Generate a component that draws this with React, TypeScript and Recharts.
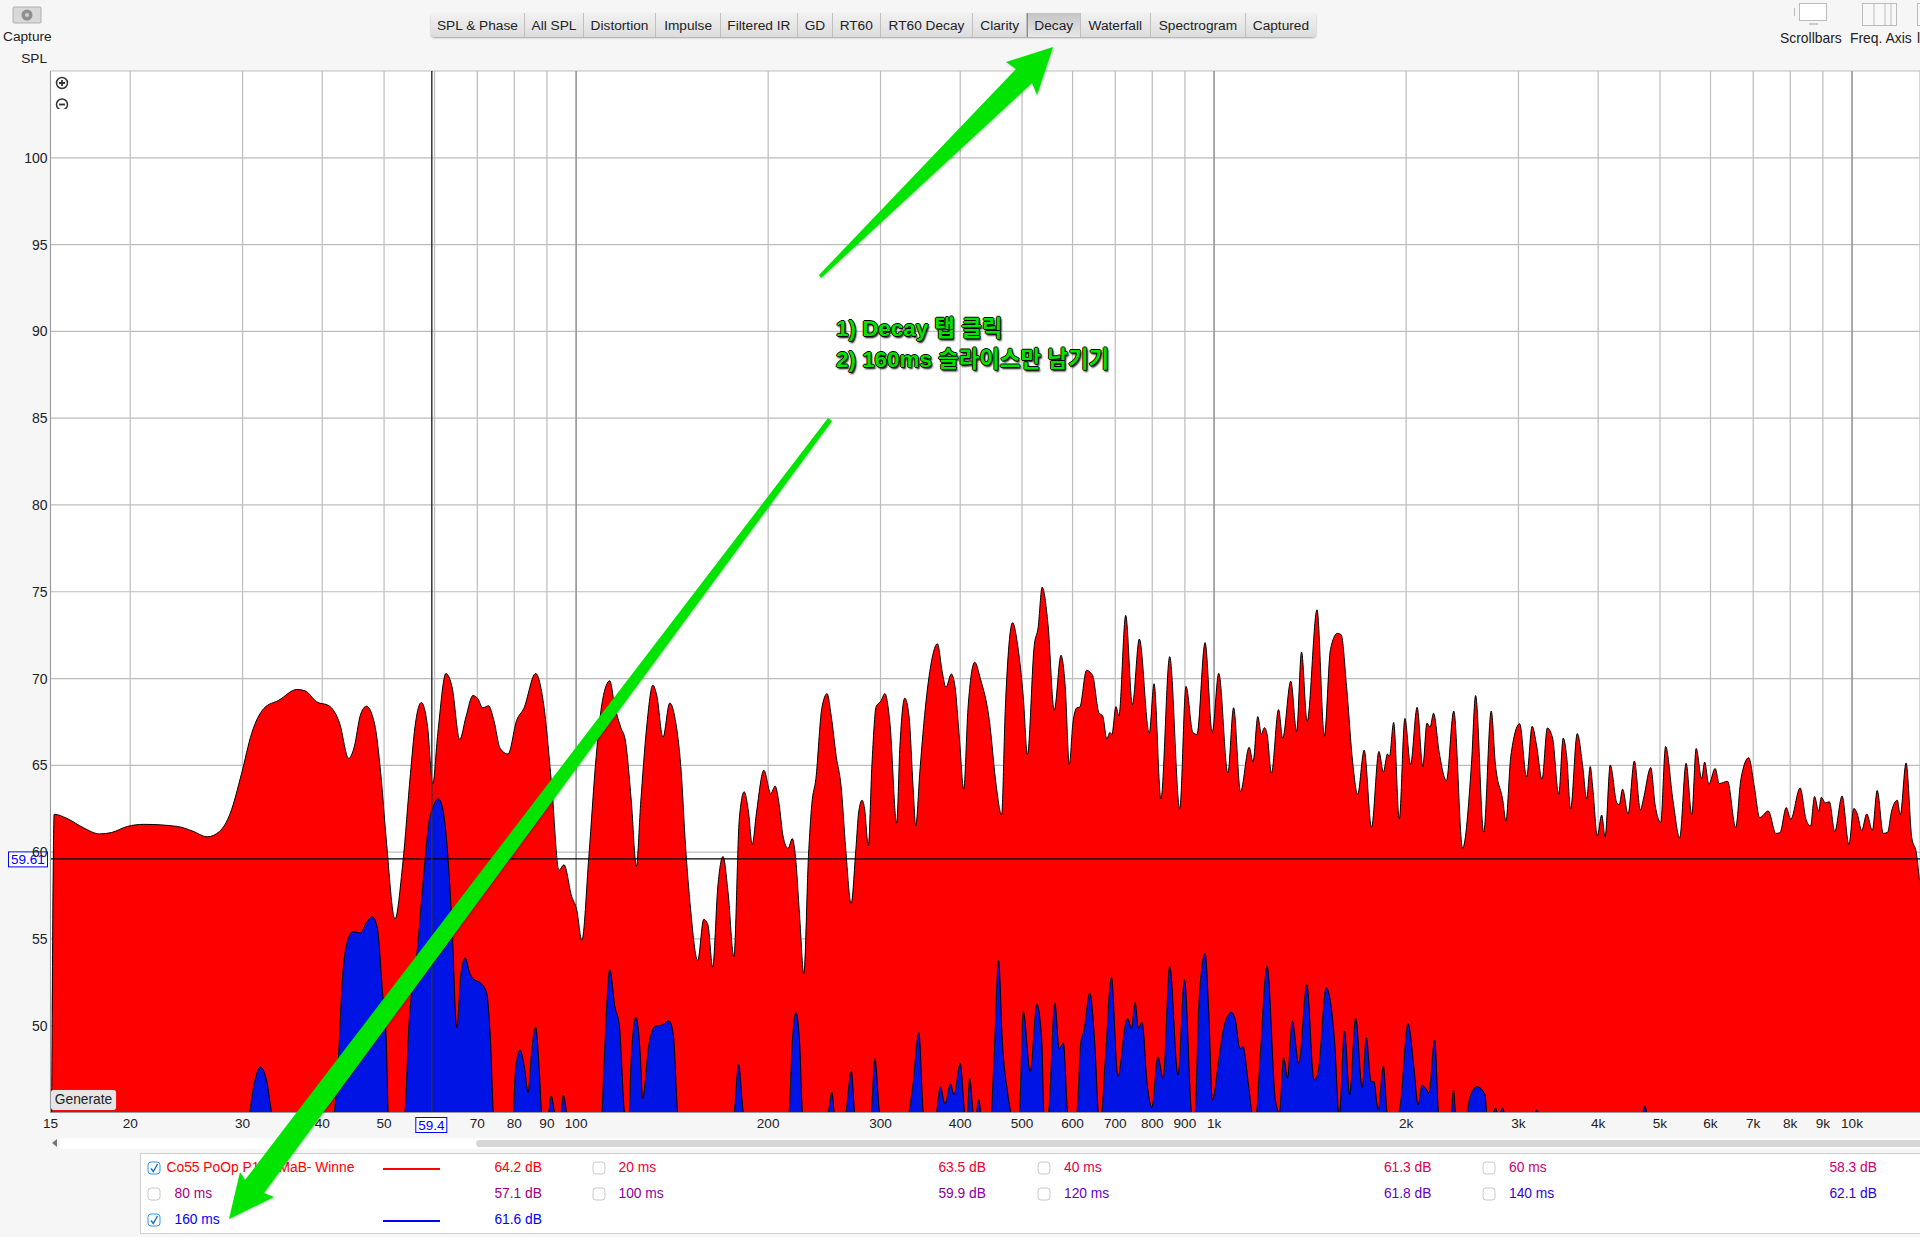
import { Area, CartesianGrid, ComposedChart, ReferenceLine, XAxis, YAxis } from "recharts";

const xTicks = [15, 20, 30, 40, 50, 60, 70, 80, 90, 100, 200, 300, 400, 500, 600, 700, 800, 900, 1000, 2000, 3000, 4000, 5000, 6000, 7000, 8000, 9000, 10000];
const yTicks = [50, 55, 60, 65, 70, 75, 80, 85, 90, 95, 100];
const decadeLines = [100, 1000, 10000];

const redFreq = [
  15.06, 15.2, 15.9, 16.9, 17.9, 18.7, 19.8, 21, 23.7, 25.1,
  26.4, 27.6, 28.7, 29.9, 31, 32.4, 34.2, 36.5, 37.6, 39.2,
  41, 42.6, 44, 44.9, 45.9, 46.9, 48.3, 49.4, 50.4, 52,
  53.5, 55, 55.9, 57.2, 58.5, 59.6, 60.7, 62.5, 63.9, 65.7,
  67.2, 68.9, 70.1, 71.4, 72.9, 74.3, 76, 78.2, 80.7, 82.8,
  86.4, 88.9, 91.5, 94, 95.7, 98.4, 100.2, 102.1, 104.7, 107.5,
  110, 112.9, 115, 117.5, 119.4, 122, 124.3, 126.2, 129, 131.9,
  133.8, 136.8, 140.2, 143, 146.1, 148.4, 151.1, 155.1, 158.5, 160.9,
  163.7, 166.8, 169.9, 173.1, 176.7, 180.2, 183.4, 186.3, 188.8, 191.8,
  196.9, 201.9, 205.1, 208.1, 211, 214.9, 218.2, 220.7, 224, 227.5,
  231.3, 234.1, 237.6, 242.7, 247.4, 251.1, 255.7, 260.2, 264.6, 269.8,
  274.5, 277.3, 280.7, 283.2, 287.1, 290.9, 295.3, 300.4, 304.8, 310.4,
  318, 321.8, 327.5, 332.5, 337.6, 340.7, 345.8, 350.8, 358.4, 368.5,
  374.8, 379.9, 387.4, 392.5, 398.8, 405.1, 411.4, 421.5, 430.3, 444.2,
  455.6, 464.4, 470.7, 483.3, 492.2, 502.3, 509.8, 522.5, 530, 537.6,
  549, 561.6, 575.5, 584.3, 593.1, 600.7, 609.5, 615.9, 631, 644.9,
  660, 668.9, 679, 686.5, 691.6, 701.7, 709.2, 726.9, 744.6, 763.5,
  791.3, 805.2, 825.3, 851.9, 883.4, 903.6, 926.3, 940.2, 968, 993.2,
  1017, 1051, 1073, 1100, 1135, 1151, 1171, 1186, 1199, 1211,
  1230, 1262, 1281, 1319, 1347, 1371, 1399, 1450, 1489, 1522,
  1560, 1582, 1613, 1650, 1679, 1719, 1765, 1813, 1842, 1870,
  1883, 1912, 1951, 1991, 2032, 2081, 2124, 2156, 2181, 2208,
  2254, 2313, 2375, 2452, 2532, 2570, 2646, 2719, 2760, 2836,
  2867, 2918, 3013, 3089, 3152, 3203, 3266, 3330, 3393, 3469,
  3526, 3570, 3621, 3709, 3785, 3836, 3887, 3925, 3988, 4051,
  4102, 4178, 4279, 4317, 4368, 4456, 4558, 4659, 4710, 4836,
  4912, 5013, 5102, 5241, 5368, 5494, 5608, 5697, 5811, 5874,
  5963, 6102, 6191, 6381, 6571, 6697, 6887, 7026, 7166, 7393,
  7596, 7710, 7887, 8014, 8292, 8470, 8609, 8735, 8862, 8951,
  9077, 9216, 9394, 9647, 9887, 10065, 10191, 10356, 10546, 10761,
  10951, 11191, 11369, 11533, 11774, 11900, 12154, 12407, 12609, 12780,
];
const redSpl = [
  44.8, 62.18, 61.95, 61.4, 61.05, 61.13, 61.48, 61.6, 61.48, 61.2,
  60.88, 61.19, 62.24, 64.54, 66.84, 68.28, 68.75, 69.37, 69.29, 68.66,
  68.43, 67.41, 65.4, 66.07, 67.89, 68.41, 67.41, 64.54, 60.7, 56.15,
  59.37, 64.54, 67.22, 68.62, 67.22, 63.93, 66.84, 70.29, 69.52, 66.49,
  67.8, 69.02, 68.85, 68.31, 68.43, 67.6, 65.98, 65.65, 67.6, 68.28,
  70.29, 68.56, 63.97, 58.95, 59.27, 57.45, 56.69, 54.92, 59.75, 65.5,
  68.75, 69.87, 68.37, 67.18, 66.46, 63, 59.18, 62.74, 67.21, 69.62,
  69.02, 66.61, 68.59, 67.64, 64.65, 60.39, 56.77, 53.75, 56.13, 55.81,
  53.37, 58.05, 59.75, 57.63, 53.96, 61.89, 63.48, 62.31, 60.44, 62.31,
  64.72, 63.38, 63.8, 62.74, 60.93, 60.22, 60.78, 59.75, 56.35, 52.98,
  59.75, 62.74, 64.23, 68.27, 69.13, 67.85, 65.51, 63.8, 60.18, 57.03,
  60.18, 62.31, 62.99, 62.52, 60.35, 65.08, 68.38, 68.7, 69.13, 67.42,
  61.67, 66.14, 68.87, 67.85, 63.59, 61.5, 64.65, 67.42, 70.4, 72,
  70.4, 69.49, 70.26, 69.55, 66.57, 63.63, 68.27, 70.94, 69.98, 67.64,
  63.8, 62.14, 68.27, 73.22, 71.9, 68.91, 65.61, 71.9, 72.96, 75.26,
  73.17, 68.17, 71.34, 69.55, 65.04, 67.42, 68.32, 68.36, 70.47, 70.19,
  68.02, 67.85, 66.53, 66.89, 66.78, 68.38, 67.85, 73.64, 68.49, 72.28,
  66.83, 69.7, 63.06, 71.26, 62.48, 69.55, 66.89, 66.78, 72.07, 66.89,
  70.3, 64.55, 68.32, 63.48, 66.04, 65.19, 67.81, 66.78, 67.17, 66.78,
  64.55, 68.21, 66.57, 69.85, 66.95, 71.53, 67.53, 73.96, 66.68, 71.68,
  72.6, 72.53, 69.55, 65.08, 63.33, 65.87, 61.42, 65.8, 64.61, 65.65,
  65.51, 67.47, 61.89, 67.7, 65.04, 68.34, 64.93, 67.42, 67.21, 68,
  65.72, 64.12, 68.13, 60.22, 65.08, 69.02, 61.14, 68.13, 65.08, 62.95,
  61.78, 65.51, 67.4, 64.33, 67.25, 66.14, 64.19, 67.15, 66.57, 63.33,
  66.57, 65.51, 62.48, 66.83, 64.87, 63.06, 64.93, 63.59, 60.93, 62.14,
  60.86, 65.02, 62.84, 62.74, 63.63, 62.2, 65.25, 62.42, 63.06, 64.87,
  62.74, 61.71, 66.08, 62.95, 60.82, 65.12, 62.14, 65.97, 64.23, 65.19,
  63.91, 64.82, 63.95, 64.08, 61.42, 64.23, 65.44, 63.8, 61.99, 62.37,
  61.08, 61.12, 62.57, 61.89, 63.7, 61.89, 61.5, 63.2, 62.35, 63.16,
  62.84, 62.9, 61.18, 63.23, 60.44, 62.52, 62.2, 61.25, 62.2, 61.25,
  63.55, 61.08, 61.14, 62.35, 62.99, 62.14, 65.14, 60.82, 59.97, 58.05,
];

const blueFreq = [
  15.06, 30.6, 31.3, 32, 32.7, 33.5,
  41.6, 42.4, 43, 43.8, 44.7, 45.9, 46.9, 47.9, 48.8, 49.7, 50.4, 50.8,
  53.8, 54.7, 56.2, 57.7, 58.8, 59.7, 60.8, 61.7, 62.9, 63.9, 65, 66, 67, 68.1, 69.1, 70.8, 72.4, 73.4, 74.3,
  79.6, 80.4, 81.7, 83, 84.1, 85, 86.4, 87.6, 88.4,
  90.3, 91.4, 92.9, 94.5, 95.5, 97,
  109.6, 110.7, 112.9, 115, 116.9, 119.4, 121, 122, 124.1, 126.2, 127.1,
  130, 132.9, 136.8, 139.8, 142, 144.6,
  176.5, 179.7, 183.4, 215.3, 218.2, 221, 224, 226.7,
  247.4, 251.8, 254.4, 263.8, 270, 273.9, 289.6, 294, 299.7,
  330.6, 337, 344.5, 350.8, 366, 372.3, 378.6, 386.2, 391.2, 400, 407.6,
  410, 413.9, 420.2, 422.8, 427.8, 432,
  446.7, 451.8, 459.4, 465.7, 474.5, 483.3,
  494.7, 502.3, 514.9, 527.5, 537, 541.4,
  549, 562.9, 571.7, 580.5, 590.6,
  608.3, 618.4, 625, 638.6, 649.9, 660,
  665, 675.2, 690.3, 706.7, 726.9, 732, 742, 752, 761, 771, 786, 799, 816.5, 832, 852, 878, 898.5, 924,
  933, 946.5, 968, 981, 994, 1017, 1035, 1064, 1079, 1098, 1110, 1132, 1151,
  1163, 1180, 1211, 1248, 1266, 1285, 1303, 1326, 1357, 1398, 1434, 1455, 1499, 1545, 1571,
  1601, 1631, 1667, 1707, 1732, 1763, 1780, 1808, 1842, 1871,
  1940, 1958, 2014, 2057, 2088, 2117, 2148, 2171, 2217, 2252,
  2348, 2374, 2393, 2481, 2519, 2583, 2659, 2680,
  2731, 2760, 2793, 2832, 2861, 3173, 3203, 3241, 4684, 4735, 4786, 12780,
];
const blueSpl = [
  44.8, 44.8, 46.72, 47.63, 46.9, 44.8,
  44.8, 48.16, 52.57, 54.87, 55.42, 55.34, 55.92, 56.28, 55.63, 51.99, 49.12, 44.8,
  44.8, 50.08, 53.91, 58.71, 61.76, 62.62, 63.07, 62.62, 59.94, 55.73, 49.89, 53.05, 53.91, 53.05, 52.67, 52.47, 51.9, 49.22, 44.8,
  44.8, 47.6, 48.6, 47.6, 46.15, 48.16, 49.92, 47.3, 44.8,
  44.8, 45.96, 44.8, 44.8, 46, 44.8,
  44.8, 48.16, 53.24, 51.13, 49.98, 44.8, 44.8, 48.16, 50.5, 48.04, 45.8,
  48.89, 49.96, 50.06, 50.28, 49.53, 44.8,
  44.8, 47.76, 44.8, 44.8, 49.1, 50.77, 49.1, 44.8,
  44.8, 46.17, 44.8, 44.8, 47.4, 44.8, 44.8, 48.1, 44.8,
  44.8, 46.5, 49.6, 44.8, 44.8, 46.5, 45.5, 46.65, 46.02, 47.83, 44.8,
  44.8, 46.97, 44.8, 44.8, 45.74, 44.8,
  44.8, 48.04, 53.75, 49.1, 46.19, 44.8,
  44.8, 50.81, 47.36, 51.24, 49.1, 44.8,
  44.8, 51.3, 48.68, 49, 44.8,
  44.8, 49.1, 49.7, 51.9, 49.1, 44.8,
  44.8, 48.04, 52.79, 47.08, 50.17, 50.43, 49.85, 51.34, 49.85, 50.21, 46.55, 45.3, 48.21, 46.97, 53.43, 47.15, 52.66, 44.8,
  44.8, 51.24, 54.17, 50.8, 45.7, 48.04, 49.85, 50.77, 50.4, 48.68, 48.8, 46.65, 44.8,
  44.8, 48.04, 53.43, 45.7, 45, 48.19, 46.98, 50.28, 47.83, 52.36, 46.87, 47.29, 52.19, 49.1, 44.8,
  49.7, 46.02, 50.45, 46.44, 49.32, 46.76, 46.8, 45.16, 47.68, 44.8,
  44.8, 45.44, 50.13, 47.61, 45.44, 46.55, 46.38, 46.12, 49.17, 44.8,
  44.8, 46.29, 44.8, 44.8, 45.91, 46.49, 46.02, 44.8,
  44.8, 45.27, 44.8, 45.27, 44.8, 44.8, 45.16, 44.8, 44.8, 45.38, 44.8, 44.8,
];

const tabLabels = ["SPL & Phase", "All SPL", "Distortion", "Impulse", "Filtered IR", "GD", "RT60", "RT60 Decay", "Clarity", "Decay", "Waterfall", "Spectrogram", "Captured"];
const tabEdges = [430.5, 525.4, 583.6, 656.5, 720.8, 798, 833, 880.6, 973.5, 1027, 1080.6, 1151, 1246, 1316];

const legendLabels = ["Co55 PoOp P1     MaB- Winne", "20 ms", "40 ms", "60 ms", "80 ms", "100 ms", "120 ms", "140 ms", "160 ms"];
const legendValues = ["64.2 dB", "63.5 dB", "61.3 dB", "58.3 dB", "57.1 dB", "59.9 dB", "61.8 dB", "62.1 dB", "61.6 dB"];
const legendColors = ["#ff0000", "#f00030", "#e0004a", "#c80070", "#a00080", "#8a00a0", "#6400c0", "#3000d8", "#0000ff"];

const redData = redFreq.map((f, i) => ({ f, v: redSpl[i] }));
const blueData = blueFreq.map((f, i) => ({ f, v: blueSpl[i] }));

const UI_FONT = '"Liberation Sans", Arial, sans-serif';
const GREEN = "#00e400";

function formatFreq(v: number) {
  if (v === 60) return "";
  return v >= 1000 ? `${v / 1000}k` : `${v}`;
}

function SplBadge({ viewBox }: any) {
  return (
    <g>
      <rect x={8.5} y={viewBox.y - 7} width={39} height={15} fill="#fff" stroke="#0000ff" />
      <text x={28} y={viewBox.y + 5} textAnchor="middle" fontSize={13.5} fontFamily={UI_FONT} fill="#0000ff">
        59.61
      </text>
    </g>
  );
}

function FreqBadge({ viewBox }: any) {
  const bottom = viewBox.y + viewBox.height;
  return (
    <g>
      <rect x={viewBox.x - 16} y={bottom + 5} width={31} height={15} fill="#fff" stroke="#0000ff" />
      <text x={viewBox.x - 0.5} y={bottom + 17} textAnchor="middle" fontSize={13.5} fontFamily={UI_FONT} fill="#0000ff">
        59.4
      </text>
    </g>
  );
}

function Checkbox({ x, y, checked }: { x: number; y: number; checked: boolean }) {
  return (
    <svg width={14} height={14} style={{ position: "absolute", left: x - 7, top: y - 7 }}>
      <rect x={1} y={1} width={12} height={12} rx={3} fill="#fff" stroke={checked ? "#2f95f0" : "#c8c8c8"} />
      {checked && <path d="M4 7.5 L6.3 10.5 L10.5 3" fill="none" stroke="#1070d0" strokeWidth={1.4} />}
    </svg>
  );
}

function LegendBox() {
  const columns = [
    { box: 153.7, label: 174.5, value: 542 },
    { box: 599, label: 618.5, value: 986 },
    { box: 1044, label: 1064, value: 1431.5 },
    { box: 1488.5, label: 1509, value: 1877 },
  ];
  const rows = [1168, 1194, 1220];
  return (
    <div style={{ position: "absolute", left: 0, top: 0, width: 1920, height: 1237, pointerEvents: "none" }}>
      <div style={{ position: "absolute", left: 140, top: 1153, width: 1790, height: 79, background: "#fff", border: "1px solid #cfcfcf" }} />
      {legendLabels.map((label, i) => {
        const col = columns[i % 4];
        const y = rows[Math.floor(i / 4)];
        const checked = i === 0 || i === 8;
        return (
          <div key={label}>
            <Checkbox x={col.box} y={y} checked={checked} />
            <span style={{ position: "absolute", left: i === 0 ? 166.5 : col.label, top: y - 8, fontSize: 13.8, lineHeight: "16px", color: legendColors[i], whiteSpace: "pre" }}>
              {label}
            </span>
            <span style={{ position: "absolute", right: 1920 - col.value, top: y - 8, fontSize: 13.8, lineHeight: "16px", color: legendColors[i], whiteSpace: "nowrap" }}>
              {legendValues[i]}
            </span>
            {checked && <div style={{ position: "absolute", left: 383, top: y, width: 57, height: 2, background: legendColors[i] }} />}
          </div>
        );
      })}
    </div>
  );
}

function Toolbar() {
  return (
    <div>
      <div style={{ position: "absolute", left: tabEdges[0], top: 13, width: tabEdges[13] - tabEdges[0], height: 24, borderRadius: 4, boxShadow: "0 1px 2px rgba(0,0,0,.35)", overflow: "hidden", display: "flex", background: "linear-gradient(#f2f2f2,#dcdcdc)" }}>
        {tabLabels.map((label, i) => (
          <div
            key={label}
            style={{
              width: tabEdges[i + 1] - tabEdges[i],
              boxSizing: "border-box",
              borderRight: i < 12 ? "1px solid #c0c0c0" : "none",
              textAlign: "center",
              fontSize: 13.7,
              lineHeight: "25px",
              color: "#222",
              whiteSpace: "nowrap",
              background: label === "Decay" ? "linear-gradient(#c4c4c4,#e8e8e8)" : undefined,
              borderLeft: label === "Decay" ? "1px solid #8a8a8a" : undefined,
            }}
          >
            {label}
          </div>
        ))}
      </div>

      {/* capture icon */}
      <svg width={34} height={22} style={{ position: "absolute", left: 11, top: 3 }}>
        <rect x={2} y={4} width={28} height={16} rx={1} fill="#d8d8d8" stroke="#b0b0b0" />
        <circle cx={16} cy={12} r={5.5} fill="#8f8f8f" />
        <circle cx={16} cy={12} r={2} fill="#d0d0d0" />
      </svg>
      <span style={{ position: "absolute", left: 3, top: 29, fontSize: 13.7, color: "#222" }}>Capture</span>
      <span style={{ position: "absolute", right: 1920 - 47, top: 51, fontSize: 13.7, color: "#222" }}>SPL</span>

      {/* top right toggles */}
      <svg width={150} height={28} style={{ position: "absolute", left: 1790, top: 2 }}>
        <rect x={4} y={6} width={1} height={8} fill="#bbb" />
        <rect x={9.5} y={1.5} width={27} height={17} fill="#fff" stroke="#bbb" />
        <rect x={19} y={21} width={9} height={2} fill="#ccc" />
        <rect x={72.5} y={1.5} width={34} height={22} fill="#f8f8f8" stroke="#bbb" />
        <path d="M84 2 V23 M95 2 V23 M101 2 V23" stroke="#bbb" />
        <rect x={127.5} y={1.5} width={10} height={22} fill="#f8f8f8" stroke="#bbb" />
      </svg>
      <span style={{ position: "absolute", left: 1780, top: 30, fontSize: 13.9, color: "#222" }}>Scrollbars</span>
      <span style={{ position: "absolute", left: 1850, top: 30, fontSize: 13.9, color: "#222" }}>Freq. Axis</span>
      <span style={{ position: "absolute", left: 1917, top: 30, fontSize: 13.9, color: "#222" }}>l</span>
    </div>
  );
}

function PlotControls() {
  return (
    <div>
      <svg width={16} height={34} style={{ position: "absolute", left: 54, top: 75 }}>
        <circle cx={8} cy={8} r={5.5} fill="#fff" stroke="#333" strokeWidth={1.5} />
        <path d="M5 8 H11 M8 5 V11" stroke="#333" strokeWidth={1.8} />
        <circle cx={8} cy={29.5} r={5.5} fill="#fff" stroke="#333" strokeWidth={1.5} />
        <path d="M5 29.5 H11" stroke="#333" strokeWidth={1.8} />
      </svg>
      <div style={{ position: "absolute", left: 51, top: 1090, width: 65, height: 20, borderRadius: 3, background: "#e6e6e6", boxShadow: "0 0 1px #999", textAlign: "center", fontSize: 13.8, lineHeight: "20px", color: "#222" }}>
        Generate
      </div>
      {/* scrollbar */}
      <div style={{ position: "absolute", left: 60, top: 1138, width: 1860, height: 11, background: "#fff" }} />
      <div style={{ position: "absolute", left: 476, top: 1140, width: 1444, height: 7, borderRadius: "4px 0 0 4px", background: "#d6d6d6" }} />
      <svg width={6} height={8} style={{ position: "absolute", left: 52, top: 1139 }}>
        <path d="M5 0 V8 L0 4 Z" fill="#777" />
      </svg>
    </div>
  );
}

function Annotations() {
  return (
    <div style={{ position: "absolute", left: 0, top: 0, width: 1920, height: 1237, pointerEvents: "none" }}>
      <svg width={1920} height={1237} style={{ position: "absolute", left: 0, top: 0, filter: "drop-shadow(1px 1px 1px rgba(0,0,0,.25))" }}>
        <polygon points="1053,47 1037,95 1032,83 821,278 819,275 1016,69 1006,62" fill={GREEN} />
        <polygon points="229,1219 240,1172 245,1180 828,418 832,421 264,1193 274,1197" fill={GREEN} />
      </svg>
      <div style={{ position: "absolute", left: 836, top: 313, fontFamily: '"Liberation Sans", "Noto Sans CJK KR", sans-serif', fontWeight: 700, fontSize: 22.4, lineHeight: "31px", color: GREEN, whiteSpace: "nowrap", textShadow: "1px 0 #000, -1px 0 #000, 0 1px #000, 0 -1px #000, 1.5px 1.5px 2px #000" }}>
        <div>1) Decay 탭 클릭</div>
        <div>2) 160ms 슬라이스만 남기기</div>
      </div>
    </div>
  );
}

export default function App() {
  return (
    <div style={{ position: "absolute", left: 0, top: 0, width: 1920, height: 1237, overflow: "hidden", background: "#f6f6f6", fontFamily: UI_FONT }}>
      <Toolbar />
      <ComposedChart width={1920} height={1237} margin={{ top: 71, right: 0, bottom: 94.5, left: 0 }} style={{ position: "absolute", left: 0, top: 0 }}>
        <CartesianGrid fill="#fff" stroke="#bdbdbd" strokeWidth={1.2} />
        <CartesianGrid horizontal={false} verticalValues={decadeLines} stroke="#8c8c8c" strokeWidth={1.2} />
        <XAxis
          dataKey="f"
          type="number"
          scale="log"
          domain={[15, 12780]}
          allowDataOverflow
          ticks={xTicks}
          interval={0}
          height={30}
          tickSize={0}
          tickMargin={6}
          axisLine={{ stroke: "#999" }}
          tickFormatter={formatFreq}
          tick={{ fontSize: 13.6, fontFamily: UI_FONT, fill: "#222" }}
        />
        <YAxis
          type="number"
          domain={[45, 105]}
          allowDataOverflow
          ticks={yTicks}
          interval={0}
          width={50.5}
          tickSize={0}
          tickMargin={3}
          axisLine={{ stroke: "#999" }}
          tick={{ fontSize: 14, fontFamily: UI_FONT, fill: "#222" }}
        />
        <Area data={redData} dataKey="v" type="monotone" fill="#ff0000" fillOpacity={1} stroke="#000" strokeWidth={1} dot={false} activeDot={false} isAnimationActive={false} />
        <Area data={blueData} dataKey="v" type="monotone" fill="#0014e6" fillOpacity={1} stroke="#000" strokeWidth={1} dot={false} activeDot={false} isAnimationActive={false} />
        <ReferenceLine y={59.61} stroke="#000" strokeWidth={1.2} label={<SplBadge />} />
        <ReferenceLine x={59.4} stroke="#333" strokeWidth={1.5} label={<FreqBadge />} />
      </ComposedChart>
      <PlotControls />
      <LegendBox />
      <Annotations />
    </div>
  );
}
